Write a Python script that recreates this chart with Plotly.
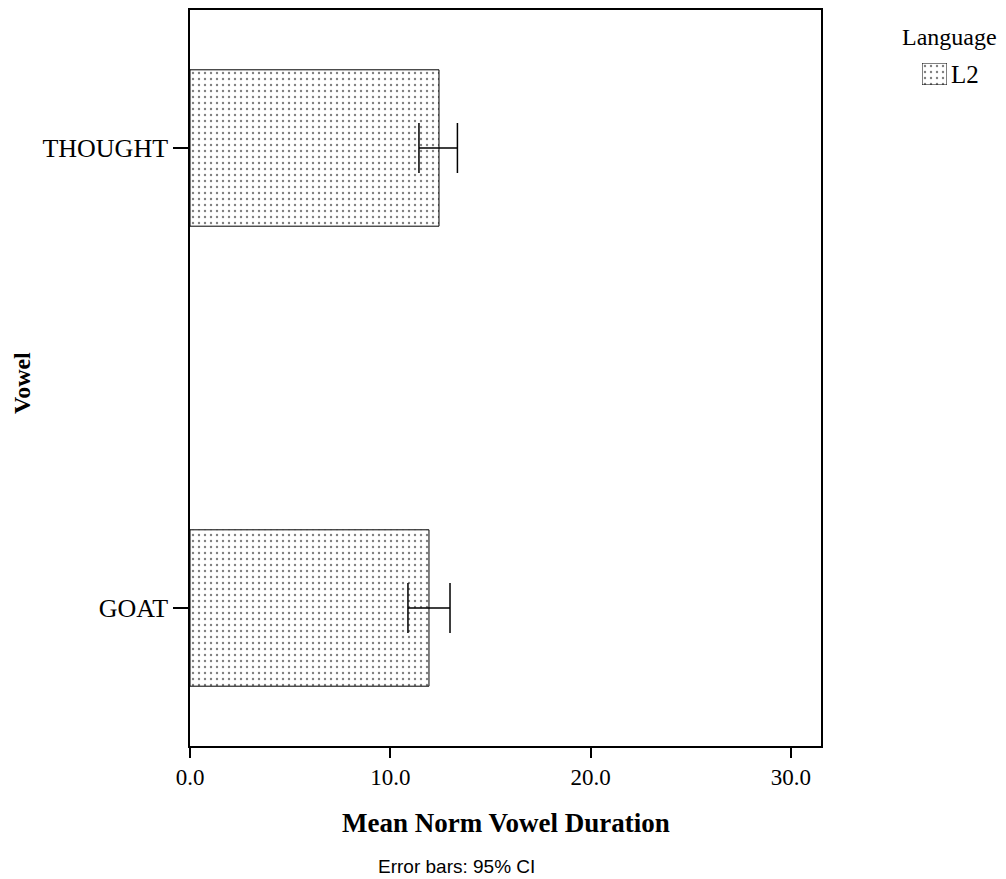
import plotly.graph_objects as go

vowels = ["GOAT", "THOUGHT"]
mean_duration = [11.93, 12.43]
ci_upper = [12.98, 13.35]
ci_lower = [10.88, 11.43]

err_plus = [u - m for u, m in zip(ci_upper, mean_duration)]
err_minus = [m - l for m, l in zip(mean_duration, ci_lower)]

serif = "Liberation Serif"
PAD = 8  # page body margin around the figure
W, H = 1006 - PAD, 879 - PAD


# paper = whole figure (zero margins); arguments are screen pixels
def fx(x):
    return (x - PAD) / W


def fy(y):
    return (H - (y - PAD)) / H


dots = dict(shape=".", fgcolor="black", bgcolor="white", size=6, solidity=0.12)

fig = go.Figure()
fig.add_trace(go.Bar(
    x=mean_duration, y=vowels, orientation="h", name="L2",
    width=0.34,
    marker=dict(color="white", line=dict(color="black", width=1), pattern=dots),
    error_x=dict(type="data", array=err_plus, arrayminus=err_minus,
                 color="black", thickness=1.5, width=25),
    showlegend=False,
))

# legend swatch drawn as a tiny patterned bar
fig.add_trace(go.Bar(
    x=[1], y=[0], orientation="h", width=1, xaxis="x2", yaxis="y2",
    marker=dict(color="white", line=dict(color="black", width=1), pattern=dots),
    showlegend=False, hoverinfo="skip",
))

fig.update_layout(
    width=W, height=H,
    margin=dict(l=0, r=0, t=0, b=0),
    plot_bgcolor="white", paper_bgcolor="white",
    font=dict(family=serif, color="black"),
    showlegend=False,
    xaxis=dict(domain=[fx(190), fx(821)], range=[0, 31.5],
               tickvals=[0, 10, 20, 30], tickformat=".1f",
               ticks="outside", ticklen=10, tickwidth=1.5, tickcolor="black",
               showline=True, linecolor="black", linewidth=1.5, mirror=True,
               showgrid=False, zeroline=False, automargin=False,
               tickfont=dict(size=23, family=serif)),
    yaxis=dict(domain=[fy(746), fy(10)], range=[-0.3, 1.3], type="category",
               ticks="outside", ticklen=15, tickwidth=1.5, tickcolor="black",
               showline=True, linecolor="black", linewidth=1.5, mirror=True,
               showgrid=False, automargin=False,
               tickfont=dict(size=26, family=serif)),
    xaxis2=dict(domain=[fx(922), fx(947)], anchor="y2", range=[0, 1],
                visible=False, fixedrange=True),
    yaxis2=dict(domain=[fy(85), fy(63)], anchor="x2", range=[-0.5, 0.5],
                visible=False, fixedrange=True),
    annotations=[
        dict(text="<b>Mean Norm Vowel Duration</b>", xref="paper", yref="paper",
             x=fx(506), y=fy(823), xanchor="center", yanchor="middle",
             showarrow=False, font=dict(size=27, family=serif)),
        dict(text="<b>Vowel</b>", xref="paper", yref="paper",
             x=fx(22), y=fy(383), xanchor="center", yanchor="middle",
             textangle=-90, showarrow=False, font=dict(size=24, family=serif)),
        dict(text="Language", xref="paper", yref="paper",
             x=fx(949), y=fy(37), xanchor="center", yanchor="middle",
             showarrow=False, font=dict(size=24, family=serif)),
        dict(text="L2", xref="paper", yref="paper",
             x=fx(949), y=fy(75), xanchor="left", yanchor="middle",
             showarrow=False, font=dict(size=25, family=serif)),
        dict(text="Error bars: 95% CI", xref="paper", yref="paper",
             x=fx(456), y=fy(866), xanchor="center", yanchor="middle",
             showarrow=False, font=dict(size=19, family="Liberation Sans")),
    ],
)

fig.write_html("out.html")
